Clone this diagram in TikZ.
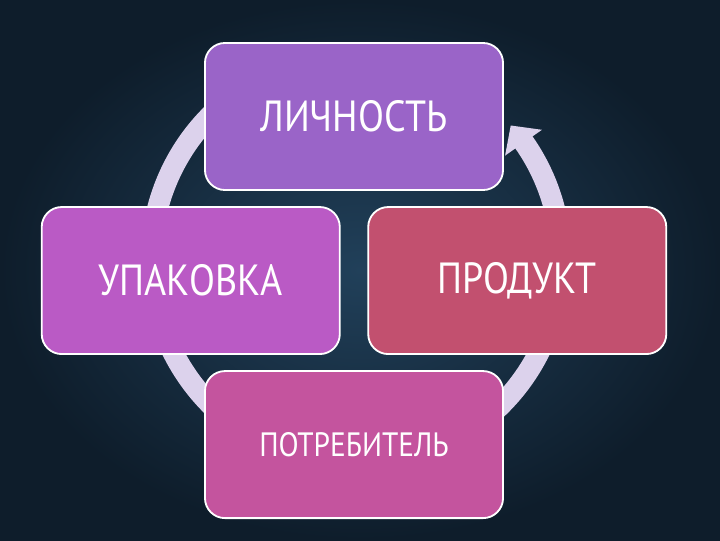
\documentclass[tikz,border=0pt]{standalone}
\usepackage{fontspec}
\setmainfont[FakeStretch=0.87]{PT Sans}
\usetikzlibrary{positioning,calc}

\definecolor{bgin}{HTML}{21405A}
\definecolor{bgout}{HTML}{0E1D2B}
\definecolor{ringcol}{HTML}{DCD2EC}
\definecolor{lichcol}{HTML}{9A64C8}
\definecolor{upakcol}{HTML}{BA5AC5}
\definecolor{prodcol}{HTML}{C2506F}
\definecolor{potrcol}{HTML}{C4549E}

\tikzset{box/.style={draw=white,line width=1.3pt,rounded corners=0.5cm,
                     minimum width=7.45cm,minimum height=3.675cm,
                     text=white,font=\fontsize{31}{33}\selectfont}}

\begin{document}
\begin{tikzpicture}[x=0.025cm,y=0.025cm,node distance=4.1cm and 4.08cm,on grid]

\useasboundingbox (0,0) rectangle (720,540);
\shade[inner color=bgin,outer color=bgout] (0,0) rectangle (720,540);

% ring with arrow head
\coordinate (o) at (356,280);
\draw[ringcol,line width=0.525cm] ($(o)+(120:205)$) arc[start angle=120,end angle=396,radius=205];
\fill[ringcol] ($(o)+(35:227)$) -- ($(o)+(41:205)$) -- ($(o)+(35:182)$) -- cycle;

\node[box,fill=lichcol] (lich) at (354,423.5) {ЛИЧНОСТЬ};
\node[box,fill=upakcol] (upak) [below left=of lich]  {УПАКОВКА};
\node[box,fill=prodcol] (prod) [below right=of lich] {ПРОДУКТ};
\node[box,fill=potrcol,font=\fontsize{24}{26}\selectfont] (potr) [below right=of upak] {ПОТРЕБИТЕЛЬ};

\end{tikzpicture}
\end{document}
